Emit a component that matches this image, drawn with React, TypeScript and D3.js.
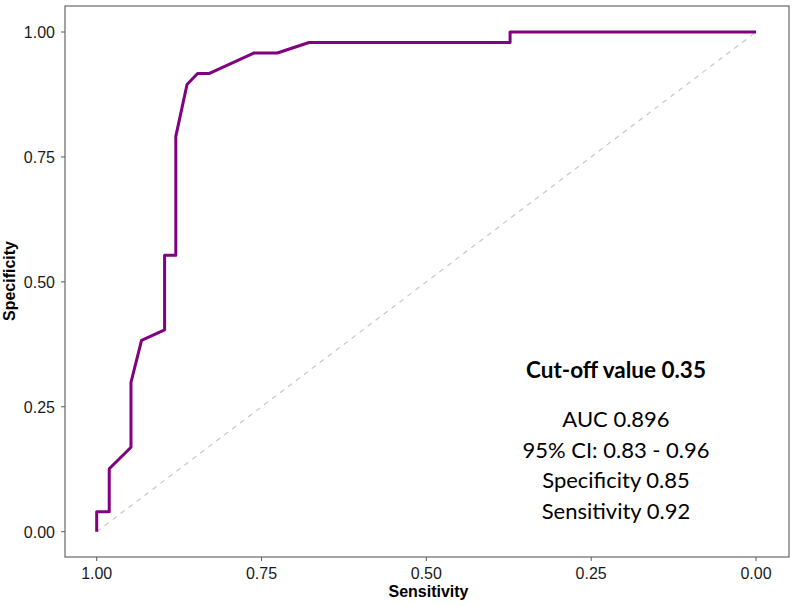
import React from "react";
import * as d3 from "d3";

// ROC curve points (sensitivity on reversed x axis, specificity on y)
const sensitivity = [1.0, 1.0, 0.981, 0.981, 0.948, 0.948, 0.932, 0.897, 0.897, 0.88, 0.88, 0.863, 0.847, 0.829, 0.761, 0.726, 0.678, 0.373, 0.373, 0.0];
const specificity = [0.0, 0.04, 0.04, 0.126, 0.169, 0.299, 0.383, 0.404, 0.553, 0.553, 0.791, 0.895, 0.917, 0.917, 0.958, 0.958, 0.979, 0.979, 1.0, 1.0];

const tickValues = [0, 0.25, 0.5, 0.75, 1.0];
const tickLabels = ["0.00", "0.25", "0.50", "0.75", "1.00"];

const annotationTitle = "Cut-off value 0.35";
const annotationLines = ["AUC 0.896", "95% CI: 0.83 - 0.96", "Specificity 0.85", "Sensitivity 0.92"];

const W = 792;
const H = 606;
const panel = { left: 65, top: 6, right: 789, bottom: 557 };

export default function App() {
  const x = d3.scaleLinear().domain([1, 0]).range([96.7, 756]);
  const y = d3.scaleLinear().domain([0, 1]).range([531.7, 32]);

  const line = d3
    .line<number>()
    .x((_, i) => x(sensitivity[i]))
    .y((d) => y(d));

  const axisFont = "Arial, 'Liberation Sans', sans-serif";
  const noteFont = "Lato, 'Open Sans', sans-serif";

  return (
    <svg
      width={W}
      height={H}
      style={{ position: "absolute", left: 0, top: 0, background: "#fff" }}
    >
      <rect x={0} y={0} width={W} height={H} fill="#fff" />
      {/* chance diagonal */}
      <line
        x1={x(1)}
        y1={y(0)}
        x2={x(0)}
        y2={y(1)}
        stroke="#c8c8c8"
        strokeWidth={1.2}
        strokeDasharray="5,5"
      />
      {/* ROC curve */}
      <path
        d={line(specificity) || ""}
        fill="none"
        stroke="#800080"
        strokeWidth={3}
        strokeLinejoin="round"
      />
      {/* panel border */}
      <rect
        x={panel.left}
        y={panel.top}
        width={panel.right - panel.left}
        height={panel.bottom - panel.top}
        fill="none"
        stroke="#5a5a5a"
        strokeWidth={1.1}
      />
      {/* x ticks */}
      {tickValues.map((v, i) => (
        <g key={"xt" + i}>
          <line x1={x(v)} x2={x(v)} y1={panel.bottom} y2={panel.bottom + 4} stroke="#5a5a5a" />
          <text
            x={x(v)}
            y={579}
            textAnchor="middle"
            fontFamily={axisFont}
            fontSize={16}
            fill="#1a1a1a"
          >
            {tickLabels[i]}
          </text>
        </g>
      ))}
      {/* y ticks */}
      {tickValues.map((v, i) => (
        <g key={"yt" + i}>
          <line x1={panel.left - 4} x2={panel.left} y1={y(v)} y2={y(v)} stroke="#5a5a5a" />
          <text
            x={55}
            y={y(v) + 6}
            textAnchor="end"
            fontFamily={axisFont}
            fontSize={16}
            fill="#1a1a1a"
          >
            {tickLabels[i]}
          </text>
        </g>
      ))}
      {/* axis titles */}
      <text
        x={428.5}
        y={597}
        textAnchor="middle"
        fontFamily={axisFont}
        fontWeight="bold"
        fontSize={16}
        fill="#000"
      >
        Sensitivity
      </text>
      <text
        transform={`translate(15,281) rotate(-90)`}
        textAnchor="middle"
        fontFamily={axisFont}
        fontWeight="bold"
        fontSize={16}
        fill="#000"
      >
        Specificity
      </text>
      {/* annotation */}
      <text
        x={616}
        y={378}
        textAnchor="middle"
        fontFamily={noteFont}
        fontWeight="bold"
        fontSize={22.5}
        fill="#000"
      >
        {annotationTitle}
      </text>
      {annotationLines.map((t, i) => (
        <text
          key={"note" + i}
          x={616}
          y={427 + i * 30.5}
          textAnchor="middle"
          fontFamily={noteFont}
          fontSize={22}
          fill="#000"
        >
          {t}
        </text>
      ))}
    </svg>
  );
}
